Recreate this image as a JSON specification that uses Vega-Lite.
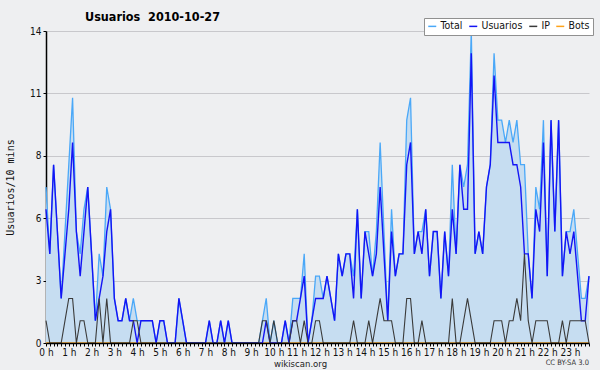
{
  "$schema": "https://vega.github.io/schema/vega-lite/v6.json",
  "autosize": {"type": "none"},
  "width": 543,
  "height": 312,
  "padding": {"left": 46, "top": 31, "right": 11, "bottom": 27},
  "background": "#EEEFF1",
  "title": {
    "text": "Usuarios\u00a0 2010-10-27",
    "anchor": "start",
    "frame": "group",
    "dx": 39,
    "offset": -6,
    "font": "DejaVu Sans Condensed",
    "fontSize": 12.5,
    "fontWeight": "bold",
    "color": "#000"
  },
  "config": {
    "view": {"stroke": null, "fill": "#EEEFF1"},
    "font": "DejaVu Sans Condensed",
    "axis": {"labelFont": "DejaVu Sans Condensed", "titleFont": "DejaVu Sans Condensed"}
  },
  "data": {
    "values": [
      {"min":0,"Total":7,"Usuarios":6,"IP":1,"Bots":0},
      {"min":10,"Total":4,"Usuarios":4,"IP":0,"Bots":0},
      {"min":20,"Total":8,"Usuarios":8,"IP":0,"Bots":0},
      {"min":30,"Total":5,"Usuarios":5,"IP":0,"Bots":0},
      {"min":40,"Total":2,"Usuarios":2,"IP":0,"Bots":0},
      {"min":50,"Total":5,"Usuarios":4,"IP":1,"Bots":0},
      {"min":60,"Total":8,"Usuarios":6,"IP":2,"Bots":0},
      {"min":70,"Total":11,"Usuarios":9,"IP":2,"Bots":0},
      {"min":80,"Total":5,"Usuarios":5,"IP":0,"Bots":0},
      {"min":90,"Total":4,"Usuarios":3,"IP":1,"Bots":0},
      {"min":100,"Total":6,"Usuarios":5,"IP":1,"Bots":0},
      {"min":110,"Total":7,"Usuarios":7,"IP":0,"Bots":0},
      {"min":120,"Total":4,"Usuarios":4,"IP":0,"Bots":0},
      {"min":130,"Total":1,"Usuarios":1,"IP":0,"Bots":0},
      {"min":140,"Total":4,"Usuarios":2,"IP":2,"Bots":0},
      {"min":150,"Total":3,"Usuarios":3,"IP":0,"Bots":0},
      {"min":160,"Total":7,"Usuarios":5,"IP":2,"Bots":0},
      {"min":170,"Total":6,"Usuarios":6,"IP":0,"Bots":0},
      {"min":180,"Total":2,"Usuarios":2,"IP":0,"Bots":0},
      {"min":190,"Total":1,"Usuarios":1,"IP":0,"Bots":0},
      {"min":200,"Total":1,"Usuarios":1,"IP":0,"Bots":0},
      {"min":210,"Total":2,"Usuarios":2,"IP":0,"Bots":0},
      {"min":220,"Total":1,"Usuarios":1,"IP":0,"Bots":0},
      {"min":230,"Total":2,"Usuarios":1,"IP":1,"Bots":0},
      {"min":240,"Total":1,"Usuarios":0,"IP":1,"Bots":0},
      {"min":250,"Total":1,"Usuarios":1,"IP":0,"Bots":0},
      {"min":260,"Total":1,"Usuarios":1,"IP":0,"Bots":0},
      {"min":270,"Total":1,"Usuarios":1,"IP":0,"Bots":0},
      {"min":280,"Total":1,"Usuarios":1,"IP":0,"Bots":0},
      {"min":290,"Total":0,"Usuarios":0,"IP":0,"Bots":0},
      {"min":300,"Total":1,"Usuarios":1,"IP":0,"Bots":0},
      {"min":310,"Total":1,"Usuarios":1,"IP":0,"Bots":0},
      {"min":320,"Total":0,"Usuarios":0,"IP":0,"Bots":0},
      {"min":330,"Total":0,"Usuarios":0,"IP":0,"Bots":0},
      {"min":340,"Total":0,"Usuarios":0,"IP":0,"Bots":0},
      {"min":350,"Total":2,"Usuarios":2,"IP":0,"Bots":0},
      {"min":360,"Total":1,"Usuarios":1,"IP":0,"Bots":0},
      {"min":370,"Total":0,"Usuarios":0,"IP":0,"Bots":0},
      {"min":380,"Total":0,"Usuarios":0,"IP":0,"Bots":0},
      {"min":390,"Total":0,"Usuarios":0,"IP":0,"Bots":0},
      {"min":400,"Total":0,"Usuarios":0,"IP":0,"Bots":0},
      {"min":410,"Total":0,"Usuarios":0,"IP":0,"Bots":0},
      {"min":420,"Total":0,"Usuarios":0,"IP":0,"Bots":0},
      {"min":430,"Total":1,"Usuarios":1,"IP":0,"Bots":0},
      {"min":440,"Total":0,"Usuarios":0,"IP":0,"Bots":0},
      {"min":450,"Total":0,"Usuarios":0,"IP":0,"Bots":0},
      {"min":460,"Total":1,"Usuarios":1,"IP":0,"Bots":0},
      {"min":470,"Total":0,"Usuarios":0,"IP":0,"Bots":0},
      {"min":480,"Total":1,"Usuarios":1,"IP":0,"Bots":0},
      {"min":490,"Total":0,"Usuarios":0,"IP":0,"Bots":0},
      {"min":500,"Total":0,"Usuarios":0,"IP":0,"Bots":0},
      {"min":510,"Total":0,"Usuarios":0,"IP":0,"Bots":0},
      {"min":520,"Total":0,"Usuarios":0,"IP":0,"Bots":0},
      {"min":530,"Total":0,"Usuarios":0,"IP":0,"Bots":0},
      {"min":540,"Total":0,"Usuarios":0,"IP":0,"Bots":0},
      {"min":550,"Total":0,"Usuarios":0,"IP":0,"Bots":0},
      {"min":560,"Total":0,"Usuarios":0,"IP":0,"Bots":0},
      {"min":570,"Total":1,"Usuarios":0,"IP":1,"Bots":0},
      {"min":580,"Total":2,"Usuarios":1,"IP":1,"Bots":0},
      {"min":590,"Total":0,"Usuarios":0,"IP":0,"Bots":0},
      {"min":600,"Total":1,"Usuarios":0,"IP":1,"Bots":0},
      {"min":610,"Total":0,"Usuarios":0,"IP":0,"Bots":0},
      {"min":620,"Total":0,"Usuarios":0,"IP":0,"Bots":0},
      {"min":630,"Total":1,"Usuarios":1,"IP":0,"Bots":0},
      {"min":640,"Total":0,"Usuarios":0,"IP":0,"Bots":0},
      {"min":650,"Total":2,"Usuarios":1,"IP":1,"Bots":0},
      {"min":660,"Total":2,"Usuarios":1,"IP":1,"Bots":0},
      {"min":670,"Total":2,"Usuarios":2,"IP":0,"Bots":0},
      {"min":680,"Total":4,"Usuarios":3,"IP":1,"Bots":0},
      {"min":690,"Total":0,"Usuarios":0,"IP":0,"Bots":0},
      {"min":700,"Total":1,"Usuarios":1,"IP":0,"Bots":0},
      {"min":710,"Total":3,"Usuarios":2,"IP":1,"Bots":0},
      {"min":720,"Total":3,"Usuarios":2,"IP":1,"Bots":0},
      {"min":730,"Total":2,"Usuarios":2,"IP":0,"Bots":0},
      {"min":740,"Total":3,"Usuarios":3,"IP":0,"Bots":0},
      {"min":750,"Total":2,"Usuarios":2,"IP":0,"Bots":0},
      {"min":760,"Total":1,"Usuarios":1,"IP":0,"Bots":0},
      {"min":770,"Total":4,"Usuarios":4,"IP":0,"Bots":0},
      {"min":780,"Total":3,"Usuarios":3,"IP":0,"Bots":0},
      {"min":790,"Total":4,"Usuarios":4,"IP":0,"Bots":0},
      {"min":800,"Total":4,"Usuarios":4,"IP":0,"Bots":0},
      {"min":810,"Total":3,"Usuarios":2,"IP":1,"Bots":0},
      {"min":820,"Total":6,"Usuarios":6,"IP":0,"Bots":0},
      {"min":830,"Total":2,"Usuarios":2,"IP":0,"Bots":0},
      {"min":840,"Total":5,"Usuarios":5,"IP":0,"Bots":0},
      {"min":850,"Total":5,"Usuarios":4,"IP":1,"Bots":0},
      {"min":860,"Total":3,"Usuarios":3,"IP":0,"Bots":0},
      {"min":870,"Total":5,"Usuarios":4,"IP":1,"Bots":0},
      {"min":880,"Total":9,"Usuarios":7,"IP":2,"Bots":0},
      {"min":890,"Total":5,"Usuarios":4,"IP":1,"Bots":0},
      {"min":900,"Total":1,"Usuarios":1,"IP":1,"Bots":0},
      {"min":910,"Total":6,"Usuarios":5,"IP":1,"Bots":0},
      {"min":920,"Total":3,"Usuarios":3,"IP":0,"Bots":0},
      {"min":930,"Total":4,"Usuarios":4,"IP":0,"Bots":0},
      {"min":940,"Total":4,"Usuarios":4,"IP":0,"Bots":0},
      {"min":950,"Total":10,"Usuarios":8,"IP":2,"Bots":0},
      {"min":960,"Total":11,"Usuarios":9,"IP":2,"Bots":0},
      {"min":970,"Total":4,"Usuarios":4,"IP":0,"Bots":0},
      {"min":980,"Total":5,"Usuarios":5,"IP":0,"Bots":0},
      {"min":990,"Total":5,"Usuarios":4,"IP":1,"Bots":0},
      {"min":1000,"Total":6,"Usuarios":6,"IP":0,"Bots":0},
      {"min":1010,"Total":3,"Usuarios":3,"IP":0,"Bots":0},
      {"min":1020,"Total":5,"Usuarios":5,"IP":0,"Bots":0},
      {"min":1030,"Total":5,"Usuarios":5,"IP":0,"Bots":0},
      {"min":1040,"Total":2,"Usuarios":2,"IP":0,"Bots":0},
      {"min":1050,"Total":5,"Usuarios":5,"IP":0,"Bots":0},
      {"min":1060,"Total":3,"Usuarios":3,"IP":0,"Bots":0},
      {"min":1070,"Total":8,"Usuarios":6,"IP":2,"Bots":0},
      {"min":1080,"Total":4,"Usuarios":4,"IP":0,"Bots":0},
      {"min":1090,"Total":8,"Usuarios":8,"IP":0,"Bots":0},
      {"min":1100,"Total":7,"Usuarios":6,"IP":1,"Bots":0},
      {"min":1110,"Total":8,"Usuarios":6,"IP":2,"Bots":0},
      {"min":1120,"Total":14,"Usuarios":13,"IP":1,"Bots":0},
      {"min":1130,"Total":4,"Usuarios":4,"IP":0,"Bots":0},
      {"min":1140,"Total":5,"Usuarios":5,"IP":0,"Bots":0},
      {"min":1150,"Total":4,"Usuarios":4,"IP":0,"Bots":0},
      {"min":1160,"Total":7,"Usuarios":7,"IP":0,"Bots":0},
      {"min":1170,"Total":8,"Usuarios":8,"IP":0,"Bots":0},
      {"min":1180,"Total":13,"Usuarios":12,"IP":1,"Bots":0},
      {"min":1190,"Total":10,"Usuarios":9,"IP":1,"Bots":0},
      {"min":1200,"Total":10,"Usuarios":9,"IP":1,"Bots":0},
      {"min":1210,"Total":9,"Usuarios":9,"IP":0,"Bots":0},
      {"min":1220,"Total":10,"Usuarios":9,"IP":1,"Bots":0},
      {"min":1230,"Total":9,"Usuarios":8,"IP":1,"Bots":0},
      {"min":1240,"Total":10,"Usuarios":8,"IP":2,"Bots":0},
      {"min":1250,"Total":8,"Usuarios":7,"IP":1,"Bots":0},
      {"min":1260,"Total":8,"Usuarios":4,"IP":4,"Bots":0},
      {"min":1270,"Total":4,"Usuarios":4,"IP":1,"Bots":0},
      {"min":1280,"Total":2,"Usuarios":2,"IP":0,"Bots":0},
      {"min":1290,"Total":7,"Usuarios":6,"IP":1,"Bots":0},
      {"min":1300,"Total":6,"Usuarios":5,"IP":1,"Bots":0},
      {"min":1310,"Total":10,"Usuarios":9,"IP":1,"Bots":0},
      {"min":1320,"Total":3,"Usuarios":3,"IP":1,"Bots":0},
      {"min":1330,"Total":10,"Usuarios":10,"IP":0,"Bots":0},
      {"min":1340,"Total":5,"Usuarios":5,"IP":0,"Bots":0},
      {"min":1350,"Total":10,"Usuarios":10,"IP":0,"Bots":0},
      {"min":1360,"Total":3,"Usuarios":3,"IP":1,"Bots":0},
      {"min":1370,"Total":5,"Usuarios":5,"IP":0,"Bots":0},
      {"min":1380,"Total":5,"Usuarios":4,"IP":1,"Bots":0},
      {"min":1390,"Total":6,"Usuarios":5,"IP":1,"Bots":0},
      {"min":1400,"Total":4,"Usuarios":3,"IP":1,"Bots":0},
      {"min":1410,"Total":2,"Usuarios":1,"IP":1,"Bots":0},
      {"min":1420,"Total":2,"Usuarios":1,"IP":1,"Bots":0},
      {"min":1430,"Total":3,"Usuarios":3,"IP":0,"Bots":0}
    ]
  },
  "encoding": {
    "x": {
      "field": "min",
      "type": "quantitative",
      "title": "wikiscan.org",
      "scale": {"domain": [0, 1430], "nice": false, "zero": false},
      "axis": {
        "values": [0,10,20,30,40,50,60,70,80,90,100,110,120,130,140,150,160,170,180,190,200,210,220,230,240,250,260,270,280,290,300,310,320,330,340,350,360,370,380,390,400,410,420,430,440,450,460,470,480,490,500,510,520,530,540,550,560,570,580,590,600,610,620,630,640,650,660,670,680,690,700,710,720,730,740,750,760,770,780,790,800,810,820,830,840,850,860,870,880,890,900,910,920,930,940,950,960,970,980,990,1000,1010,1020,1030,1040,1050,1060,1070,1080,1090,1100,1110,1120,1130,1140,1150,1160,1170,1180,1190,1200,1210,1220,1230,1240,1250,1260,1270,1280,1290,1300,1310,1320,1330,1340,1350,1360,1370,1380,1390,1400,1410,1420,1430],
        "labelExpr": "datum.value % 60 == 0 ? (datum.value / 60) + ' h' : ''",
        "labelOverlap": false,
        "labelFontSize": 10,
        "labelColor": "#111",
        "labelPadding": 1,
        "labelFlush": false,
        "tickSize": 3,
        "tickColor": "#000",
        "domainColor": "#000",
        "domainWidth": 1.5,
        "grid": false,
        "zindex": 1,
        "titleFontSize": 9.5,
        "titleFontWeight": "normal",
        "titleColor": "#222",
        "titleX": 254,
        "titleY": 15,
        "titleAlign": "center"
      }
    }
  },
  "layer": [
    {
      "mark": {"type": "area", "color": "#C6DDF1", "opacity": 1},
      "encoding": {
        "y": {
          "field": "Total",
          "type": "quantitative",
          "title": "Usuarios/10 mins",
          "scale": {"domain": [0, 14], "nice": false},
          "axis": {
            "values": [0,0.7,1.4,2.1,2.8,3.5,4.2,4.9,5.6,6.3,7,7.7,8.4,9.1,9.8,10.5,11.2,11.9,12.6,13.3,14],
            "labelExpr": "abs(datum.value / 2.8 - round(datum.value / 2.8)) < 0.001 ? format(datum.value, '.0f') : ''",
            "labelOverlap": false,
            "labelFontSize": 10,
            "labelColor": "#111",
            "labelPadding": 2,
            "tickSize": 3,
            "tickColor": "#000",
            "domainColor": "#000",
            "domainWidth": 1.5,
            "grid": true,
            "gridColor": "#C8C8CC",
            "gridWidth": 1,
            "gridOpacity": {"condition": {"test": "abs(datum.value / 2.8 - round(datum.value / 2.8)) < 0.001 && datum.value > 0", "value": 1}, "value": 0},
            "zindex": 0,
            "titleFont": "DejaVu Sans Mono",
            "titleFontSize": 10,
            "titleFontWeight": "normal",
            "titleColor": "#111",
            "titleAngle": -90,
            "titleX": -36,
            "titleY": 156,
            "titleAlign": "center",
            "titleBaseline": "middle"
          }
        }
      }
    },
    {
      "mark": {"type": "line", "strokeWidth": 1.3},
      "encoding": {
        "y": {"field": "Bots", "type": "quantitative", "title": "Usuarios/10 mins"},
        "color": {"datum": "Bots"}
      }
    },
    {
      "mark": {"type": "line", "strokeWidth": 1.3},
      "encoding": {
        "y": {"field": "Total", "type": "quantitative", "title": "Usuarios/10 mins"},
        "color": {"datum": "Total"}
      }
    },
    {
      "mark": {"type": "line", "strokeWidth": 1.4},
      "encoding": {
        "y": {"field": "Usuarios", "type": "quantitative", "title": "Usuarios/10 mins"},
        "color": {"datum": "Usuarios"}
      }
    },
    {
      "mark": {"type": "line", "strokeWidth": 1.1},
      "encoding": {
        "y": {"field": "IP", "type": "quantitative", "title": "Usuarios/10 mins"},
        "color": {
          "datum": "IP",
          "scale": {"domain": ["Total", "Usuarios", "IP", "Bots"], "range": ["#4AA8F8", "#1414F5", "#3A3A3A", "#FFA31A"]},
          "legend": {
            "orient": "none",
            "legendX": 378,
            "legendY": -13,
            "direction": "horizontal",
            "columns": 4,
            "title": null,
            "symbolType": "stroke",
            "symbolSize": 64,
            "symbolStrokeWidth": 1.5,
            "labelFont": "DejaVu Sans Condensed",
            "labelFontSize": 10.5,
            "labelColor": "#111",
            "labelOffset": 3,
            "columnPadding": 3,
            "padding": 3,
            "fillColor": "#FFFFFF",
            "strokeColor": "#909090"
          }
        }
      }
    },
    {
      "data": {"values": [{"min": 1430, "nota": "CC BY-SA 3.0"}]},
      "mark": {"type": "text", "align": "right", "baseline": "middle", "dy": 20, "fontSize": 7.5, "color": "#333", "font": "DejaVu Sans Condensed", "clip": false},
      "encoding": {
        "x": {"field": "min", "type": "quantitative"},
        "y": {"datum": 0, "type": "quantitative", "title": "Usuarios/10 mins"},
        "text": {"field": "nota", "type": "nominal"}
      }
    }
  ]
}
